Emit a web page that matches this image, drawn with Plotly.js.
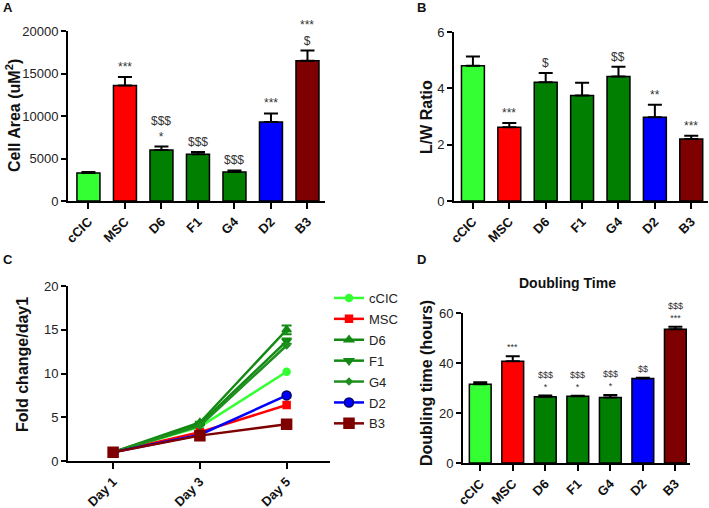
<!DOCTYPE html>
<html><head><meta charset="utf-8">
<script src="https://cdn.plot.ly/plotly-3.0.1.min.js"></script>
<style>html,body{margin:0;padding:0;background:#fff}</style>
</head><body><div id="chart" style="width:709px;height:508px"></div>
<script>
// ---- data ----
const groups = ['cCIC','MSC','D6','F1','G4','D2','B3'];
const barColors = ['#33ff33','#ff0000','#007f00','#007f00','#007f00','#0000ff','#7f0000'];

const cellArea = [3300,13600,6000,5500,3400,9300,16500];
const cellAreaErr = [100,1000,400,250,200,1000,1200];
const cellAreaSig = ['','***','$$$<br>*','$$$','$$$','***','***<br>$'];

const lwRatio = [4.8,2.62,4.22,3.75,4.42,2.97,2.2];
const lwRatioErr = [0.33,0.15,0.32,0.45,0.35,0.45,0.12];
const lwRatioSig = ['','***','$','','$$','**','***'];

const days = ['Day 1','Day 3','Day 5'];
const foldcCIC = [1,3.9,10.2];
const foldMSC = [1,3.3,6.4];
const foldD6 = [1,4.4,15.0];
const foldF1 = [1,4.2,13.7];
const foldG4 = [1,4.0,13.2];
const foldD2 = [1,3.0,7.5];
const foldB3 = [1,2.9,4.2];
const foldD6Err = [0,0.1,0.5];
const foldF1Err = [0,0.1,0.3];

const doubling = [31.5,40.7,26.5,26.7,26.2,33.8,53.5];
const doublingErr = [0.8,2.0,0.5,0.2,1.0,0.3,1.0];
const doublingSig = ['','***','$$$<br>*','$$$<br>*','$$$<br>*','$$','$$$<br>***'];

// ---- helpers ----
const W = 709, H = 508;
const px = v => v / W;
const py = v => 1 - v / H;
const FONT = 'Arial, "Liberation Sans", sans-serif';

function barTrace(vals, errs, xa, ya, width) {
  return {
    type: 'bar', x: groups, y: vals, xaxis: xa, yaxis: ya, width: width,
    marker: {color: barColors, line: {color: '#000', width: 1.5}},
    error_y: {type: 'data', symmetric: false, array: errs, arrayminus: errs.map(() => 0),
              color: '#000', thickness: 2, width: 7},
    showlegend: false, hoverinfo: 'skip'
  };
}
function sigAnn(vals, errs, sig, xa, ya, size, yshift) {
  const out = [];
  sig.forEach((s, i) => {
    if (!s) return;
    out.push({xref: xa, yref: ya, x: groups[i], y: vals[i] + errs[i], text: s,
      showarrow: false, xanchor: 'center', yanchor: 'bottom', yshift: yshift,
      font: {family: FONT, size: size, color: '#333'}});
  });
  return out;
}
function label(x, y, text, size, angle) {
  return {xref: 'paper', yref: 'paper', x: px(x), y: py(y), text: text, showarrow: false,
    xanchor: 'center', yanchor: 'middle', textangle: angle || 0,
    font: {family: FONT, size: size, color: '#111'}};
}

const traces = [
  barTrace(cellArea, cellAreaErr, 'x', 'y', 0.63),
  barTrace(lwRatio, lwRatioErr, 'x2', 'y2', 0.63),
  barTrace(doubling, doublingErr, 'x4', 'y4', 0.67)
];

const lineSpecs = [
  {name: 'cCIC', y: foldcCIC, color: '#33ff33', symbol: 'circle', size: 7, lc: '#33ff33'},
  {name: 'MSC', y: foldMSC, color: '#ff0000', symbol: 'square', size: 7, lc: '#ff0000'},
  {name: 'D6', y: foldD6, color: '#138a13', symbol: 'triangle-up', size: 8, lc: '#138a13', err: foldD6Err},
  {name: 'F1', y: foldF1, color: '#138a13', symbol: 'triangle-down', size: 8, lc: '#138a13', err: foldF1Err},
  {name: 'G4', y: foldG4, color: '#1f8f1f', symbol: 'diamond', size: 5, lc: '#1f8f1f'},
  {name: 'D2', y: foldD2, color: '#0000ff', symbol: 'circle', size: 9, lc: '#000066'},
  {name: 'B3', y: foldB3, color: '#7f0000', symbol: 'square', size: 10, lc: '#7f0000'}
];
lineSpecs.forEach(s => {
  const t = {
    type: 'scatter', mode: 'lines+markers', name: s.name, x: days, y: s.y,
    xaxis: 'x3', yaxis: 'y3', legendgroup: s.name,
    line: {color: s.color, width: 2.5},
    marker: {symbol: s.symbol, size: s.size, color: s.color, line: {color: s.lc, width: 1.5}},
    hoverinfo: 'skip'
  };
  if (s.err) t.error_y = {type: 'data', array: s.err, color: s.color, thickness: 2, width: 5};
  traces.push(t);
});

function xAx(domain, range, angle) {
  return {domain: domain, range: range, type: 'category', showline: true, linecolor: '#000', linewidth: 2,
    ticks: 'outside', ticklen: 6, tickwidth: 2, tickcolor: '#000', showgrid: false, zeroline: false,
    tickangle: angle, tickfont: {family: FONT, size: 13, color: '#111', weight: 'bold'}, fixedrange: true};
}
function yAx(domain, range, dtick, anchor) {
  return {domain: domain, range: range, dtick: dtick, tick0: 0, anchor: anchor, showline: true,
    tickformat: 'd',
    linecolor: '#000', linewidth: 2, ticks: 'outside', ticklen: 5, tickwidth: 2, tickcolor: '#000',
    showgrid: false, zeroline: false, tickfont: {family: FONT, size: 13, color: '#222'}, fixedrange: true};
}

const layout = {
  width: W, height: H, margin: {l: 0, r: 0, t: 0, b: 0},
  paper_bgcolor: '#fff', plot_bgcolor: 'rgba(0,0,0,0)',
  font: {family: FONT},
  bargap: 0.3,
  xaxis: Object.assign(xAx([px(68), px(325)], [-0.56, 6.48], -45), {anchor: 'y'}),
  yaxis: yAx([py(201), py(31)], [0, 20000], 5000, 'x'),
  xaxis2: Object.assign(xAx([px(454), px(708)], [-0.52, 6.46], -45), {anchor: 'y2'}),
  yaxis2: yAx([py(201), py(32)], [0, 6], 2, 'x2'),
  xaxis3: Object.assign(xAx([px(68), px(330)], [-0.52, 2.5], -45), {anchor: 'y3'}),
  yaxis3: yAx([py(461), py(286)], [0, 20], 5, 'x3'),
  xaxis4: Object.assign(xAx([px(463), px(690)], [-0.53, 6.45], -45), {anchor: 'y4'}),
  yaxis4: yAx([py(463), py(313)], [0, 60], 20, 'x4'),
  legend: {x: px(329), y: py(283), xanchor: 'left', yanchor: 'top',
    font: {family: FONT, size: 13, color: '#222'}, tracegroupgap: 1, bgcolor: 'rgba(0,0,0,0)'},
  annotations: [
    ...sigAnn(cellArea, cellAreaErr, cellAreaSig, 'x', 'y', 12, 1),
    ...sigAnn(lwRatio, lwRatioErr, lwRatioSig, 'x2', 'y2', 12, 1),
    ...sigAnn(doubling, doublingErr, doublingSig, 'x4', 'y4', 9, 2),
    label(8, 8, '<b>A</b>', 13),
    label(421, 8, '<b>B</b>', 13),
    label(8, 259, '<b>C</b>', 13),
    label(421, 259, '<b>D</b>', 13),
    label(567, 283, '<b>Doubling Time</b>', 14),
    label(13, 116, '<b>Cell Area (uM<sup>2</sup>)</b>', 16, -90),
    label(426, 117, '<b>L/W Ratio</b>', 16, -90),
    label(22, 365, '<b>Fold change/day1</b>', 16, -90),
    label(426, 383, '<b>Doubling time (hours)</b>', 16, -90)
  ]
};

Plotly.newPlot('chart', traces, layout, {displayModeBar: false, staticPlot: true});
</script></body></html>
